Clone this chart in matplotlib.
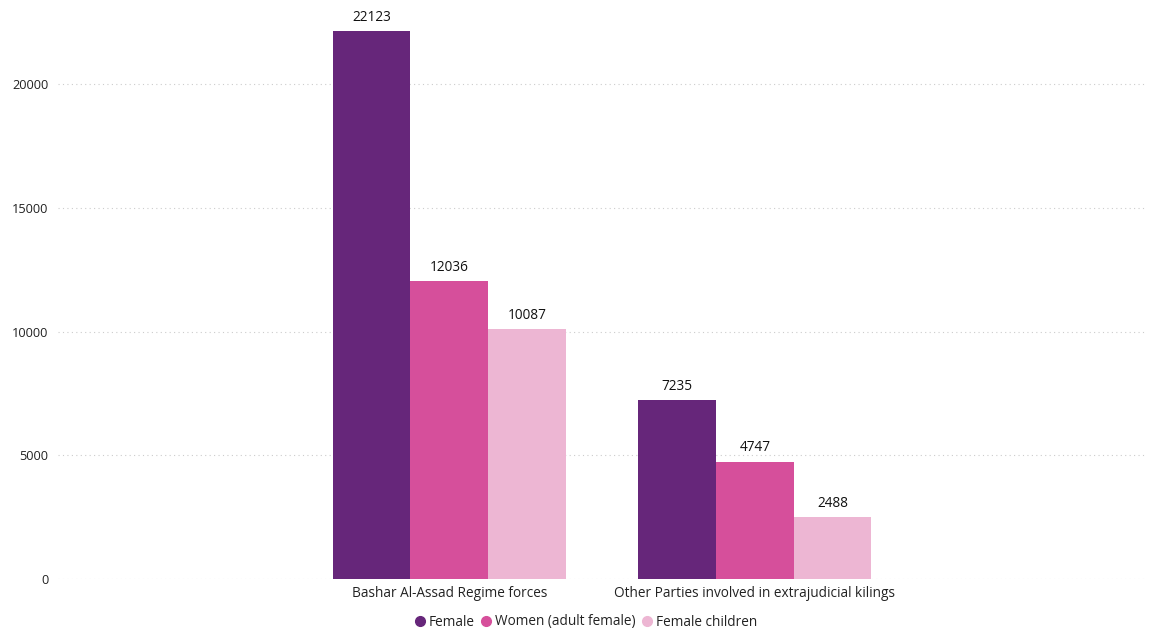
import numpy as np
import matplotlib.pyplot as plt
from matplotlib.lines import Line2D

plt.rcParams['font.family'] = ['Open Sans', 'DejaVu Sans']

categories = ["Bashar Al-Assad Regime forces", "Other Parties involved in extrajudicial kilings"]
series_names = ["Female", "Women (adult female)", "Female children"]
female = [22123, 7235]
women = [12036, 4747]
children = [10087, 2488]
colors = ["#66267A", "#D64F9B", "#EDB6D3"]

fig = plt.figure(figsize=(11.5, 6.3), dpi=100)
ax = fig.add_axes([58 / 1150, 1 - 579 / 630, (1146 - 58) / 1150, (579 - 10) / 630])

x = np.arange(len(categories))
w = 0.254
for i, (vals, col) in enumerate(zip([female, women, children], colors)):
    pos = x + (i - 1) * w
    bars = ax.bar(pos, vals, width=w, color=col, zorder=3)
    for b, v in zip(bars, vals):
        ax.text(b.get_x() + b.get_width() / 2, v + 250, str(v),
                ha="center", va="bottom", fontsize=9.8, color="#111111")

ax.set_xlim(-1.28, 2.28)
ax.set_ylim(0, 22990)
ax.set_yticks([0, 5000, 10000, 15000, 20000])
ax.set_xticks(x)
ax.set_xticklabels(categories, fontsize=9.8, color="#222222")
ax.tick_params(axis="y", labelsize=9.2, colors="#222222", length=0, pad=7)
ax.tick_params(axis="x", length=0, pad=5)
ax.grid(axis="y", linestyle=(0, (1, 3)), color="#cccccc", linewidth=0.8, zorder=0)
for s in ax.spines.values():
    s.set_visible(False)

handles = [Line2D([0], [0], marker="o", linestyle="", markersize=7,
                  markerfacecolor=c, markeredgecolor=c) for c in colors]
leg = fig.legend(handles, series_names, loc="center", bbox_to_anchor=(585 / 1150, 1 - 622 / 630),
                 ncol=3, frameon=False, fontsize=9.8, handletextpad=0.1, columnspacing=0.4,
                 handlelength=1.0)
for t in leg.get_texts():
    t.set_color("#222222")

fig.savefig("out.png", dpi=100, facecolor="white")
